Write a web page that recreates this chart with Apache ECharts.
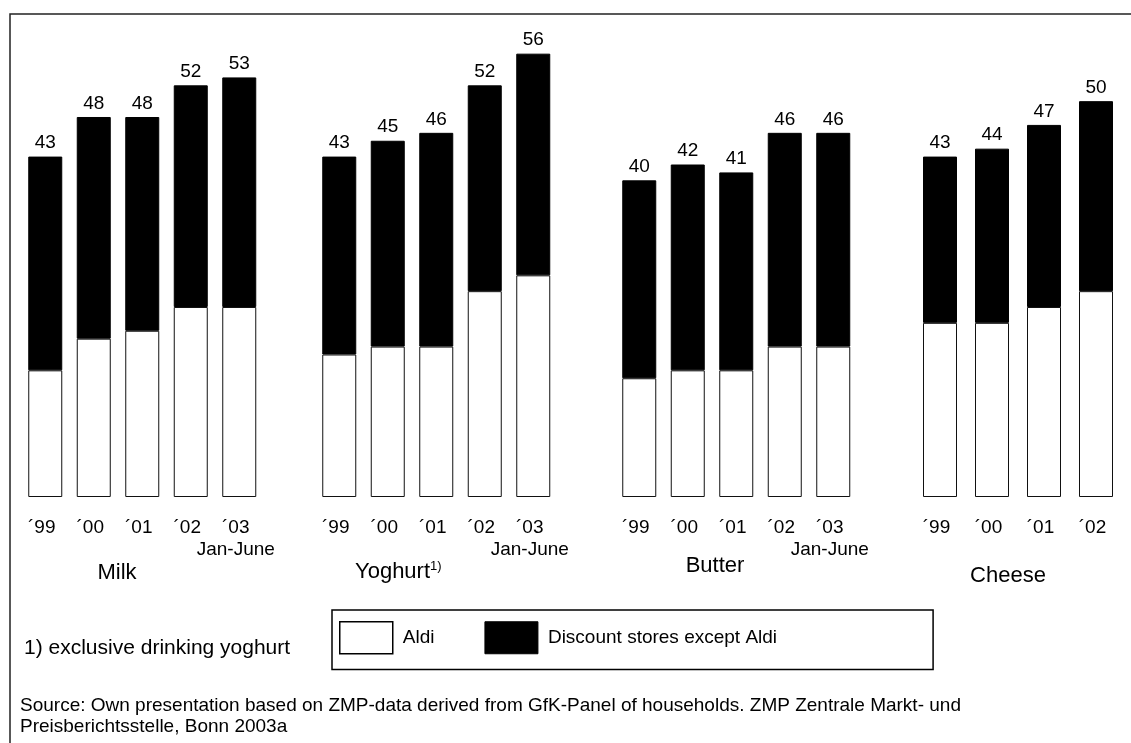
<!DOCTYPE html>
<html>
<head>
<meta charset="utf-8">
<script src="https://cdn.jsdelivr.net/npm/echarts@6/dist/echarts.min.js"></script>
<style>
html,body{margin:0;padding:0;background:#fff;}
#chart{width:1131px;height:743px;}
</style>
</head>
<body>
<div id="chart"></div>
<script>
// ---- data ----
const yearsFive = ['´99', '´00', '´01', '´02', '´03\nJan-June'];
const yearsFour = ['´99', '´00', '´01', '´02'];
const groupNames = ['Milk', 'Yoghurt', 'Butter', 'Cheese'];
const seriesNames = ['Aldi', 'Discount stores except Aldi'];
const milkTotal = [43, 48, 48, 52, 53];
const milkAldi = [16, 20, 21, 24, 24];
const yoghurtTotal = [43, 45, 46, 52, 56];
const yoghurtAldi = [18, 19, 19, 26, 28];
const butterTotal = [40, 42, 41, 46, 46];
const butterAldi = [15, 16, 16, 19, 19];
const cheeseTotal = [43, 44, 47, 50];
const cheeseAldi = [22, 22, 24, 26];
const footnote = '1) exclusive drinking yoghurt';
const sourceText = 'Source: Own presentation based on ZMP-data derived from GfK-Panel of households. ZMP Zentrale Markt- und\nPreisberichtsstelle, Bonn 2003a';

// ---- layout ----
const FONT = '"Liberation Sans", Arial, Helvetica, sans-serif';
const groups = [
  { cats: yearsFive, total: milkTotal, aldi: milkAldi, left: 21, width: 242.5 },
  { cats: yearsFive, total: yoghurtTotal, aldi: yoghurtAldi, left: 315, width: 242.5 },
  { cats: yearsFive, total: butterTotal, aldi: butterAldi, left: 615, width: 242.5 },
  { cats: yearsFour, total: cheeseTotal, aldi: cheeseAldi, left: 914, width: 208 }
];

const grid = [], xAxis = [], yAxis = [], series = [];
groups.forEach((g, i) => {
  grid.push({ left: g.left, width: g.width, top: 22, bottom: 246, outerBoundsMode: 'none' });
  xAxis.push({
    type: 'category', gridIndex: i, data: g.cats,
    axisLine: { show: false }, axisTick: { show: false },
    axisLabel: { color: '#000', fontSize: 19, fontFamily: FONT, margin: 20, lineHeight: 22, padding: [0, 7, 0, 0], interval: 0 }
  });
  yAxis.push({
    type: 'value', gridIndex: i, min: 0, max: 60,
    show: false, splitLine: { show: false }
  });
  series.push({
    name: seriesNames[0], type: 'bar', stack: 's' + i, xAxisIndex: i, yAxisIndex: i,
    barWidth: 34, data: g.aldi,
    itemStyle: { color: '#fff', borderColor: '#111', borderWidth: 1 },
    emphasis: { disabled: true }
  });
  series.push({
    name: seriesNames[1], type: 'bar', stack: 's' + i, xAxisIndex: i, yAxisIndex: i,
    barWidth: 34, data: g.total.map((t, k) => t - g.aldi[k]),
    itemStyle: { color: '#000', borderColor: '#000', borderWidth: 1 },
    label: {
      show: true, position: 'top', distance: 4, color: '#000', fontSize: 19, fontFamily: FONT,
      formatter: p => String(g.total[p.dataIndex])
    },
    emphasis: { disabled: true }
  });
});

const chart = echarts.init(document.getElementById('chart'), null, { renderer: 'canvas' });
chart.setOption({
  animation: false,
  backgroundColor: '#fff',
  textStyle: { fontFamily: FONT },
  grid, xAxis, yAxis, series,
  legend: {
    data: [
      { name: seriesNames[0], itemStyle: { color: '#fff', borderColor: '#000', borderWidth: 1.5 } },
      { name: seriesNames[1], itemStyle: { color: '#000', borderColor: '#000', borderWidth: 1 } }
    ],
    selectedMode: false,
    left: 332, top: 610,
    padding: [11, 156, 15, 7],
    icon: 'rect',
    itemWidth: 53, itemHeight: 32, itemGap: 50,
    borderColor: '#000', borderWidth: 1.5,
    textStyle: { color: '#000', fontSize: 19, fontFamily: FONT, padding: [0, 0, 0, 5] }
  },
  graphic: [
    { type: 'polyline', shape: { points: [[10, 743], [10, 14], [1131, 14]] }, style: { stroke: '#222', lineWidth: 1.5, fill: null }, silent: true },
    { type: 'text', x: 117, y: 573, style: { text: groupNames[0], fontSize: 22, fontFamily: FONT, fill: '#000', align: 'center', verticalAlign: 'middle' } },
    { type: 'text', x: 355, y: 572, style: {
        text: '{a|' + groupNames[1] + '}{s|1)}',
        align: 'left', verticalAlign: 'middle',
        rich: { a: { fontSize: 22, fontFamily: FONT, fill: '#000', lineHeight: 24 }, s: { fontSize: 13, fontFamily: FONT, fill: '#000', verticalAlign: 'top', lineHeight: 14 } }
      } },
    { type: 'text', x: 715, y: 566, style: { text: groupNames[2], fontSize: 22, fontFamily: FONT, fill: '#000', align: 'center', verticalAlign: 'middle' } },
    { type: 'text', x: 1008, y: 576, style: { text: groupNames[3], fontSize: 22, fontFamily: FONT, fill: '#000', align: 'center', verticalAlign: 'middle' } },
    { type: 'text', x: 24, y: 648, style: { text: footnote, fontSize: 21, fontFamily: FONT, fill: '#000', align: 'left', verticalAlign: 'middle' } },
    { type: 'text', x: 20, y: 695, style: { text: sourceText, fontSize: 19, lineHeight: 21, fontFamily: FONT, fill: '#000', align: 'left', verticalAlign: 'top' } }
  ]
});
</script>
</body>
</html>
